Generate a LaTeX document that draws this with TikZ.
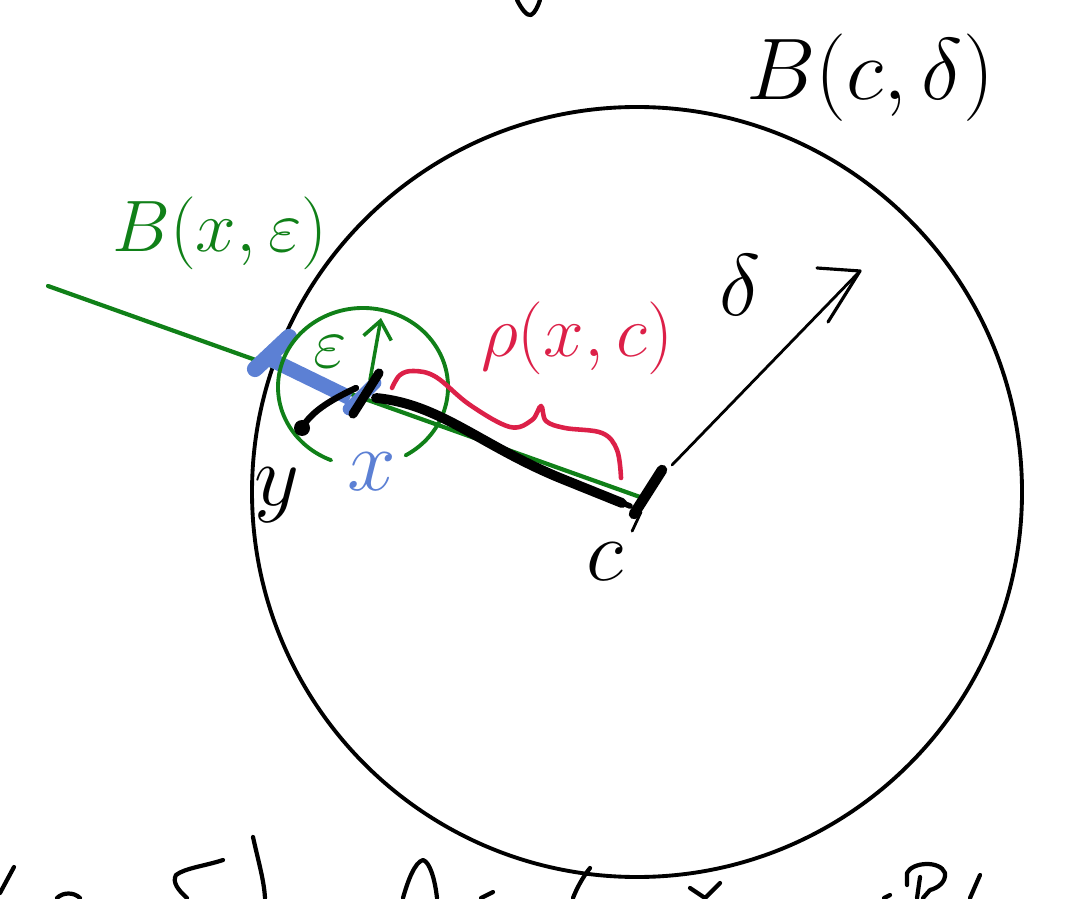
\documentclass[tikz,border=0pt]{standalone}
\usetikzlibrary{arrows.meta}
\definecolor{pgreen}{RGB}{16,128,24}
\definecolor{pblue}{RGB}{92,128,212}
\definecolor{pred}{RGB}{220,32,72}
\tikzset{
  ink/.style={line cap=round,line join=round},
  lab/.style={inner sep=0pt,anchor=center},
  frag/.style={ink,black,line width=1.2pt},
}
\newcommand{\fsz}[1]{\fontsize{#1}{#1}\selectfont}
\begin{document}
\begin{tikzpicture}[x=0.01cm,y=-0.01cm]
\useasboundingbox (0,0) rectangle (1077,898);
% coordinates
\coordinate (c) at (648,492);
\coordinate (xp) at (365,393);
\coordinate (gstart) at (48,286);
\coordinate (gend) at (640,497);
\coordinate (ydot) at (302,428);
\coordinate (bigc) at (637,492);
\coordinate (smallc) at (363,387);
% big circle
\draw[ink,line width=1.1pt] (bigc) circle (385);
% green line
\draw[ink,pgreen,line width=1.2pt] (gstart) -- (gend);
% blue thick segment and bars
\draw[pblue,line width=4.2pt] (272,360) -- (350,398);
\draw[pblue,line width=4.6pt,line cap=round] (255,369) -- (289,337);
\draw[pblue,line width=3.6pt,line cap=round] (349,409) -- (375,383);
% small green circle (open at bottom)
\draw[ink,pgreen,line width=1.1pt] (smallc) ++(60:85 and 79) arc[start angle=60,end angle=-248,x radius=85,y radius=79];
% epsilon radius arrow
\coordinate (epstop) at (381,318);
\draw[ink,pgreen,line width=1pt,-{Straight Barb[length=5pt,width=8pt]}] (370,380) -- (epstop);
% thick black line x to c
\draw[ink,line width=2.8pt] (376,398) .. controls (440,404) and (480,445) .. (560,478) -- (622,503);
\draw[ink,line width=1.6pt] (540,470) -- (630,506);
% black ticks
\draw[ink,line width=2.6pt] (379,373) -- (353,414);
\draw[ink,line width=3pt] (662,470) -- (634,514);
% y dot and curve
\fill (ydot) circle (8);
\draw[ink,line width=1.8pt] (ydot) .. controls (312,410) and (335,398) .. (356,388);
% thin continuation under c
\draw[ink,line width=0.8pt,dash pattern=on 6pt off 3pt] (641,512) -- (628,540);
% delta arrow
\coordinate (dtip) at (860,271);
\draw[ink,line width=0.8pt] (672,465) -- (dtip);
\draw[ink,line width=0.9pt] (817,268) -- (dtip) -- (828,322);
% red brace
\draw[ink,pred,line width=1.3pt] plot[smooth,tension=0.6] coordinates {(392,388) (400,375) (414,371) (436,377) (470,405) (510,427) (532,420) (541,406) (546,421) (565,428) (602,433) (617,450) (621,478)};
% labels
\node[lab] (Bcd) at (870,78) {\fsz{30}$B(c,\delta)$};
\node[lab,text=pgreen] (Bxe) at (220,233) {\fsz{20}$B(x,\varepsilon)$};
\node[lab,text=pred] (rho) at (577,338) {\fsz{20}$\rho(x,c)$};
\node[lab] (del) at (740,285) {\fsz{40}$\delta$};
\node[lab] (clab) at (605,562) {\fsz{24}$c$};
\node[lab] (ylab) at (277,495) {\fsz{26}$y$};
\node[lab,text=pblue] (xlab) at (372,472) {\fsz{26}$x$};
\node[lab,text=pgreen] (eps) at (330,352) {\fsz{20}$\varepsilon$};
% cut-off fragments at top and bottom
\draw[frag] (517,0) .. controls (522,10) and (527,16) .. (531,15) .. controls (535,13) and (538,6) .. (540,0);
\draw[frag] (14,867) -- (0,893);
\draw[frag] (57,898) .. controls (63,892) and (74,892) .. (80,898);
\draw[frag] (223,860) .. controls (205,866) and (185,868) .. (176,875) .. controls (172,882) and (178,890) .. (187,898);
\draw[frag] (253,837) .. controls (258,860) and (264,880) .. (265,898);
\draw[frag] (403,898) .. controls (408,880) and (415,862) .. (423,860) .. controls (430,862) and (435,880) .. (437,898);
\draw[frag] (493,892) -- (481,898);
\draw[frag] (590,868) .. controls (582,878) and (576,890) .. (573,898);
\draw[frag] (690,888) -- (705,898) -- (720,883);
\draw[frag] (920,877) -- (917,898);
\draw[frag] (907,885) -- (907,873) .. controls (912,862) and (940,860) .. (945,873) .. controls (946,882) and (938,888) .. (930,890) -- (923,898);
\draw[frag] (980,875) -- (970,898);
\draw[frag] (884,898) -- (890,895);
\end{tikzpicture}
\end{document}
